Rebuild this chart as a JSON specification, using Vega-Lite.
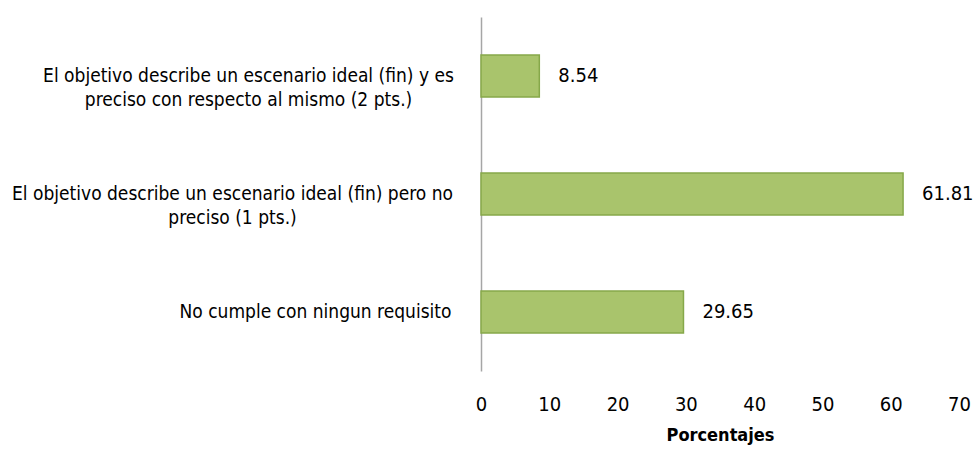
{
  "$schema": "https://vega.github.io/schema/vega-lite/v6.json",
  "width": 478,
  "height": 354,
  "autosize": {"type": "none"},
  "padding": {"left": 481, "top": 17, "right": 16, "bottom": 82},
  "background": "white",
  "config": {"view": {"stroke": null}, "font": "DejaVu Sans Condensed"},
  "data": {
    "values": [
      {"label": "El objetivo describe un escenario ideal (fin) y es|preciso con respecto al mismo (2 pts.)", "value": 8.54, "order": 1},
      {"label": "El objetivo describe un escenario ideal (fin) pero no|preciso (1 pts.)", "value": 61.81, "order": 2},
      {"label": "No cumple con ningun requisito", "value": 29.65, "order": 3}
    ]
  },
  "encoding": {
    "y": {
      "field": "label",
      "type": "nominal",
      "sort": {"field": "order"},
      "scale": {"paddingInner": 0.644, "paddingOuter": 0.322},
      "axis": {
        "title": null,
        "labelExpr": "split(datum.label, '|')",
        "labelFontSize": 19,
        "labelLineHeight": 24,
        "labelColor": "#000000",
        "labelAlign": "center",
        "labelLimit": 600,
        "labelPadding": {"condition": [
          {"test": "indexof(datum.value, 'y es') >= 0", "value": 233},
          {"test": "indexof(datum.value, 'pero no') >= 0", "value": 249}
        ], "value": 166},
        "ticks": false,
        "tickSize": 0,
        "domainColor": "#a6a6a6",
        "domainWidth": 1.5
      }
    },
    "x": {
      "field": "value",
      "type": "quantitative",
      "scale": {"domain": [0, 70]},
      "axis": {
        "title": "Porcentajes",
        "values": [0, 10, 20, 30, 40, 50, 60, 70],
        "grid": false,
        "domain": false,
        "ticks": false,
        "tickSize": 0,
        "labelFlush": false,
        "labelFontSize": 20,
        "labelColor": "#000000",
        "labelPadding": 23,
        "titleFontSize": 18,
        "titleFontWeight": "bold",
        "titleColor": "#000000",
        "titlePadding": 12
      }
    }
  },
  "layer": [
    {"mark": {"type": "bar", "fill": "#a9c46c", "stroke": "#86a84a", "strokeWidth": 1.5}},
    {"mark": {"type": "text", "align": "left", "baseline": "middle", "dx": 19, "fontSize": 20, "color": "#000000"},
     "encoding": {"text": {"field": "value", "type": "quantitative", "format": ".2f"}}}
  ]
}
